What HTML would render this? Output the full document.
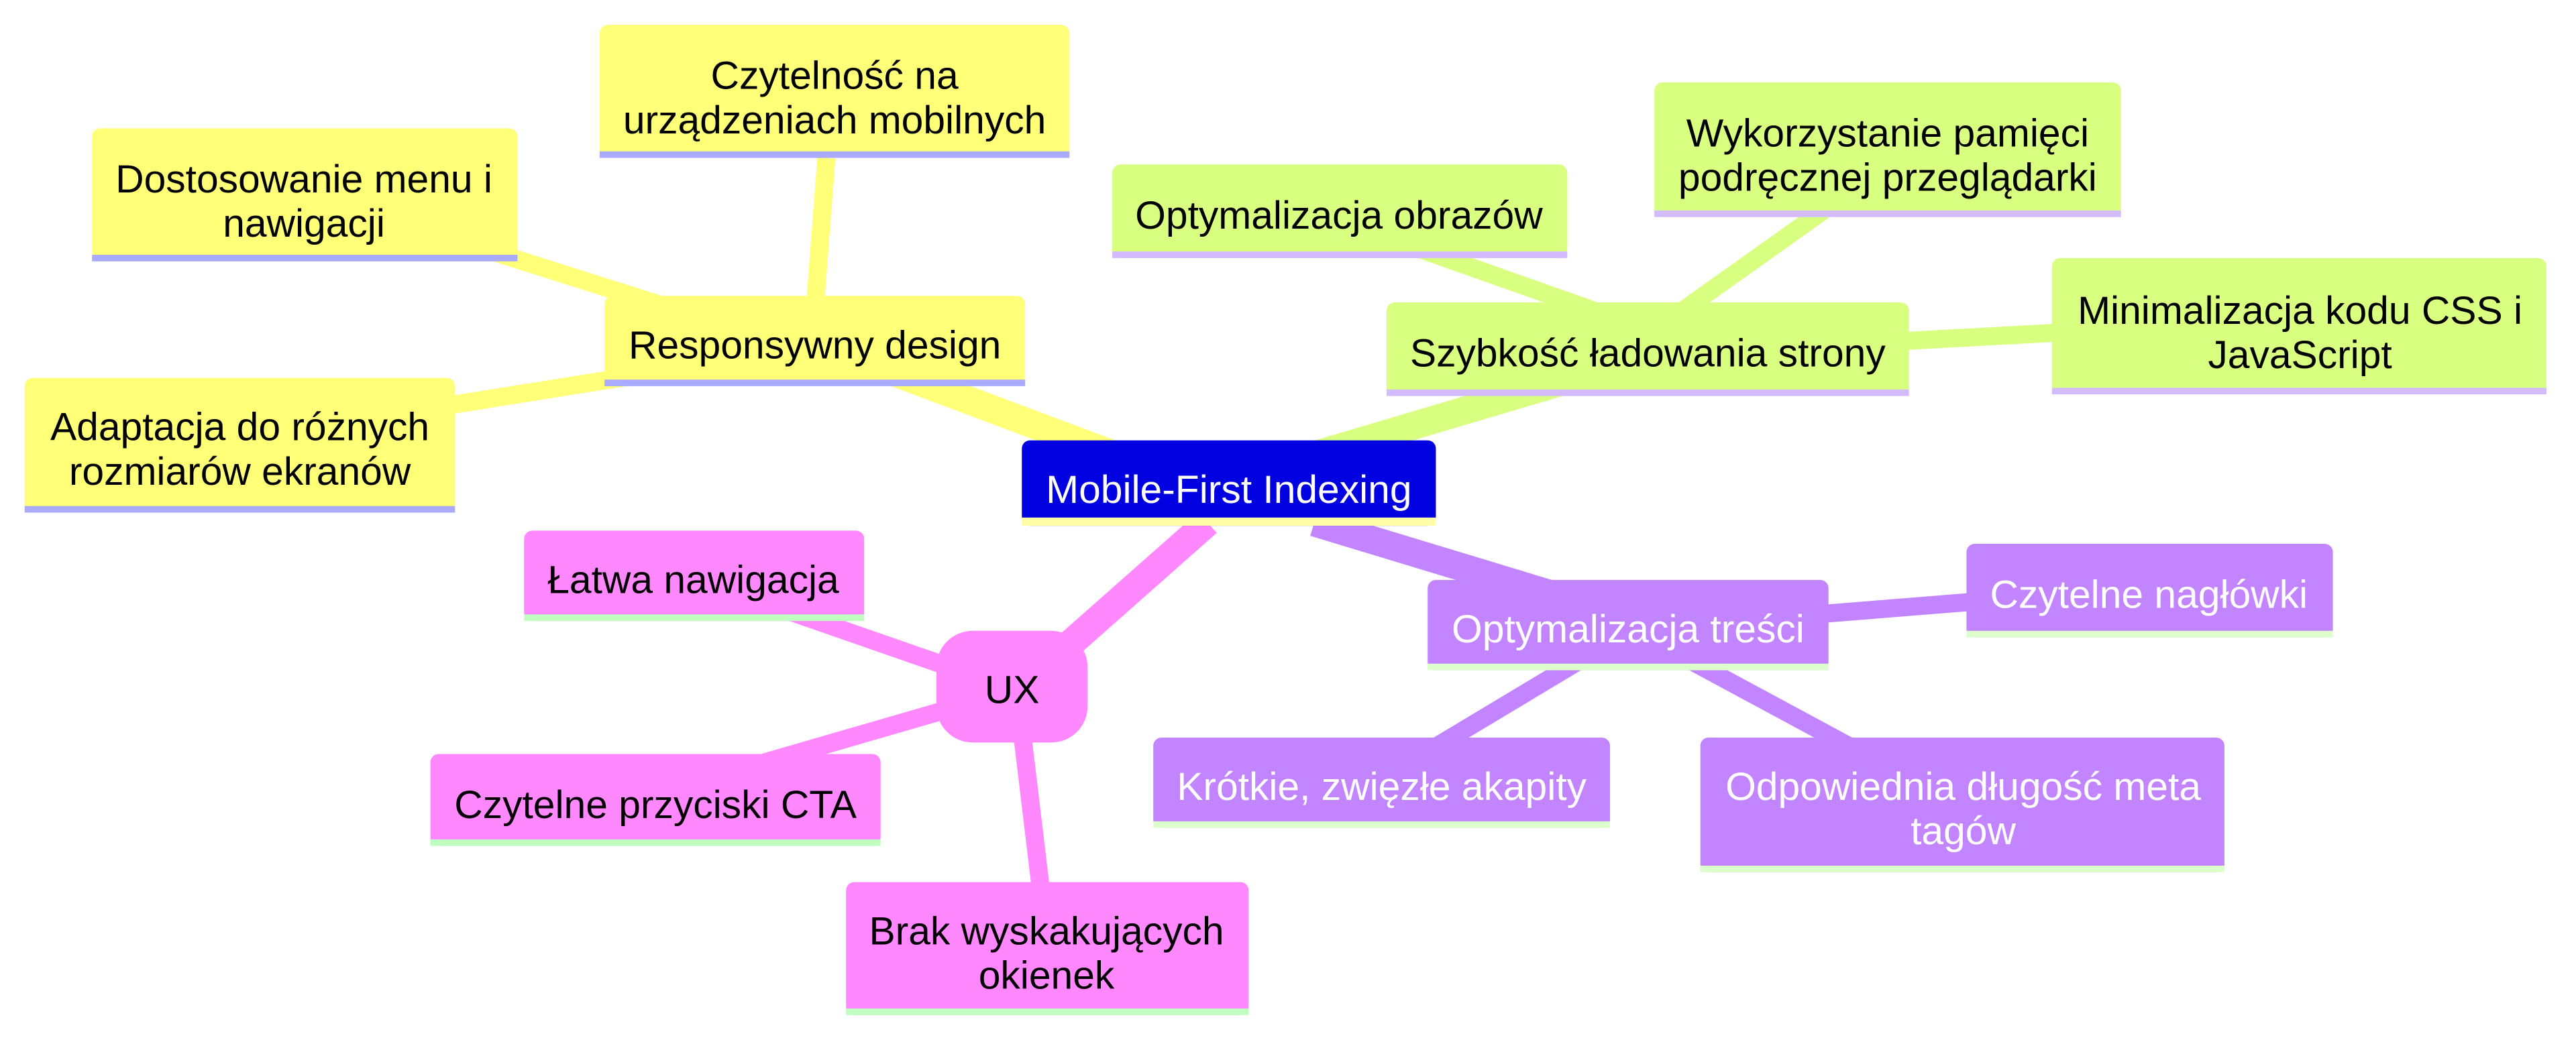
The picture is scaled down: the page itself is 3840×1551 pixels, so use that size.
<!DOCTYPE html>
<html><head><meta charset="utf-8"><style>
html,body{margin:0;padding:0;background:#fff;}
svg{display:block;}
text{font-family:"Liberation Sans",Arial,sans-serif;font-size:24px;text-anchor:middle;}
</style></head><body>
<svg width="3840" height="1551" viewBox="0 0 1568 633" xmlns="http://www.w3.org/2000/svg">
<g stroke-linecap="butt">
<line x1="700" y1="285" x2="540" y2="225" stroke="#ffff78" stroke-width="17"/>
<line x1="790" y1="280" x2="965" y2="228" stroke="#d9ff80" stroke-width="17"/>
<line x1="800" y1="318" x2="945" y2="362" stroke="#c285ff" stroke-width="17"/>
<line x1="735" y1="318" x2="640" y2="402" stroke="#ff88ff" stroke-width="17"/>
<line x1="496" y1="188" x2="503" y2="96" stroke="#ffff78" stroke-width="11"/>
<line x1="410" y1="188" x2="290" y2="150" stroke="#ffff78" stroke-width="11"/>
<line x1="390" y1="228" x2="265" y2="248" stroke="#ffff78" stroke-width="11"/>
<line x1="990" y1="196" x2="860" y2="150" stroke="#d9ff80" stroke-width="11"/>
<line x1="1020" y1="192" x2="1110" y2="128" stroke="#d9ff80" stroke-width="11"/>
<line x1="1150" y1="208" x2="1260" y2="202" stroke="#d9ff80" stroke-width="11"/>
<line x1="1105" y1="374" x2="1205" y2="366" stroke="#c285ff" stroke-width="11"/>
<line x1="965" y1="400" x2="865" y2="460" stroke="#c285ff" stroke-width="11"/>
<line x1="1025" y1="400" x2="1140" y2="462" stroke="#c285ff" stroke-width="11"/>
<line x1="595" y1="412" x2="480" y2="372" stroke="#ff88ff" stroke-width="11"/>
<line x1="590" y1="428" x2="445" y2="470" stroke="#ff88ff" stroke-width="11"/>
<line x1="622" y1="445" x2="634" y2="545" stroke="#ff88ff" stroke-width="11"/>
</g>
<g>
<rect x="622" y="268" width="252" height="52" rx="5" fill="#0000e0"/>
<rect x="622" y="315" width="252" height="5" fill="#ffffa8"/>
<text x="748" y="306" fill="#fff">Mobile-First Indexing</text>

<rect x="368" y="180" width="256" height="54" rx="5" fill="#ffff78"/>
<rect x="368" y="231" width="256" height="4" fill="#aaaaff"/>
<text x="496" y="218">Responsywny design</text>

<rect x="365" y="15" width="286" height="81" rx="5" fill="#ffff78"/>
<rect x="365" y="92" width="286" height="4" fill="#aaaaff"/>
<text x="508" y="54">Czytelność na</text><text x="508" y="81">urządzeniach mobilnych</text>

<rect x="56" y="78" width="259" height="81" rx="5" fill="#ffff78"/>
<rect x="56" y="155" width="259" height="4" fill="#aaaaff"/>
<text x="185" y="117">Dostosowanie menu i</text><text x="185" y="144">nawigacji</text>

<rect x="15" y="230" width="262" height="82" rx="5" fill="#ffff78"/>
<rect x="15" y="308" width="262" height="4" fill="#aaaaff"/>
<text x="146" y="268">Adaptacja do różnych</text><text x="146" y="295">rozmiarów ekranów</text>

<rect x="844" y="184" width="318" height="57" rx="5" fill="#d9ff80"/>
<rect x="844" y="237" width="318" height="4" fill="#d4baff"/>
<text x="1003" y="223">Szybkość ładowania strony</text>

<rect x="677" y="100" width="277" height="57" rx="5" fill="#d9ff80"/>
<rect x="677" y="153" width="277" height="4" fill="#d4baff"/>
<text x="815" y="139">Optymalizacja obrazów</text>

<rect x="1007" y="50" width="284" height="82" rx="5" fill="#d9ff80"/>
<rect x="1007" y="128" width="284" height="4" fill="#d4baff"/>
<text x="1149" y="89">Wykorzystanie pamięci</text><text x="1149" y="116">podręcznej przeglądarki</text>

<rect x="1249" y="157" width="301" height="83" rx="5" fill="#d9ff80"/>
<rect x="1249" y="236" width="301" height="4" fill="#d4baff"/>
<text x="1400" y="197">Minimalizacja kodu CSS i</text><text x="1400" y="224">JavaScript</text>

<rect x="869" y="353" width="244" height="55" rx="5" fill="#c285ff"/>
<rect x="869" y="404" width="244" height="4" fill="#ddffcc"/>
<text x="991" y="391" fill="#fff">Optymalizacja treści</text>

<rect x="1197" y="331" width="223" height="57" rx="5" fill="#c285ff"/>
<rect x="1197" y="384" width="223" height="4" fill="#ddffcc"/>
<text x="1308" y="370" fill="#fff">Czytelne nagłówki</text>

<rect x="702" y="449" width="278" height="55" rx="5" fill="#c285ff"/>
<rect x="702" y="500" width="278" height="4" fill="#ddffcc"/>
<text x="841" y="487" fill="#fff">Krótkie, zwięzłe akapity</text>

<rect x="1035" y="449" width="319" height="82" rx="5" fill="#c285ff"/>
<rect x="1035" y="527" width="319" height="4" fill="#ddffcc"/>
<text x="1195" y="487" fill="#fff">Odpowiednia długość meta</text><text x="1195" y="514" fill="#fff">tagów</text>

<rect x="570" y="384" width="92" height="68" rx="22" fill="#ff88ff"/>
<text x="616" y="428">UX</text>

<rect x="319" y="323" width="207" height="55" rx="5" fill="#ff88ff"/>
<rect x="319" y="374" width="207" height="4" fill="#c0ffc0"/>
<text x="422" y="361">Łatwa nawigacja</text>

<rect x="262" y="459" width="274" height="56" rx="5" fill="#ff88ff"/>
<rect x="262" y="511" width="274" height="4" fill="#c0ffc0"/>
<text x="399" y="498">Czytelne przyciski CTA</text>

<rect x="515" y="537" width="245" height="81" rx="5" fill="#ff88ff"/>
<rect x="515" y="614" width="245" height="4" fill="#c0ffc0"/>
<text x="637" y="575">Brak wyskakujących</text><text x="637" y="602">okienek</text>
</g>
</svg>
</body></html>
